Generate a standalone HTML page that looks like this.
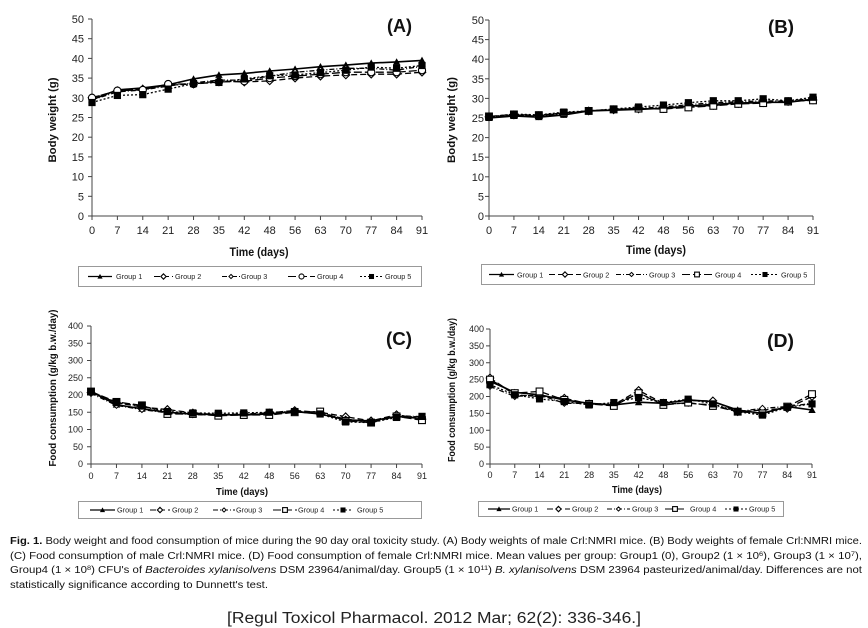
<!DOCTYPE html>
<html><head><meta charset="utf-8">
<style>
html,body{margin:0;padding:0;background:#fff;}
svg{display:block;font-family:"Liberation Sans",sans-serif;}
.tk{font-size:11px;fill:#222;}
.tk9{font-size:9px;fill:#222;}
.lg{font-size:7.3px;fill:#222;}
.ti{font-weight:bold;fill:#111;}
.cap{font-size:10px;fill:#111;}
</style></head>
<body>
<svg id="s" width="868" height="628" viewBox="0 0 868 628" xmlns="http://www.w3.org/2000/svg">
<rect width="868" height="628" fill="#fff"/>
<g id="plots"></g>

<!-- Panel A texts -->
<g class="tk" text-anchor="end">
<text x="84" y="220">0</text><text x="84" y="200.3">5</text><text x="84" y="180.6">10</text><text x="84" y="160.9">15</text><text x="84" y="141.2">20</text><text x="84" y="121.5">25</text><text x="84" y="101.8">30</text><text x="84" y="82.1">35</text><text x="84" y="62.4">40</text><text x="84" y="42.7">45</text><text x="84" y="23">50</text>
</g>
<g class="tk" text-anchor="middle">
<text x="92" y="234">0</text><text x="117.4" y="234">7</text><text x="142.8" y="234">14</text><text x="168.2" y="234">21</text><text x="193.5" y="234">28</text><text x="218.9" y="234">35</text><text x="244.3" y="234">42</text><text x="269.7" y="234">48</text><text x="295.1" y="234">56</text><text x="320.5" y="234">63</text><text x="345.8" y="234">70</text><text x="371.2" y="234">77</text><text x="396.6" y="234">84</text><text x="422" y="234">91</text>
</g>
<text class="ti" font-size="11" text-anchor="middle" transform="translate(56,120) rotate(-90)" textLength="85" lengthAdjust="spacingAndGlyphs">Body weight (g)</text>
<text class="ti" font-size="11.5" x="259" y="256" text-anchor="middle" textLength="59" lengthAdjust="spacingAndGlyphs">Time (days)</text>
<text class="ti" font-size="18" x="387" y="32" textLength="25" lengthAdjust="spacingAndGlyphs">(A)</text>

<!-- Panel B texts -->
<g class="tk" text-anchor="end">
<text x="484" y="220">0</text><text x="484" y="200.4">5</text><text x="484" y="180.8">10</text><text x="484" y="161.2">15</text><text x="484" y="141.6">20</text><text x="484" y="122">25</text><text x="484" y="102.4">30</text><text x="484" y="82.8">35</text><text x="484" y="63.2">40</text><text x="484" y="43.6">45</text><text x="484" y="24">50</text>
</g>
<g class="tk" text-anchor="middle">
<text x="489" y="234">0</text><text x="513.9" y="234">7</text><text x="538.8" y="234">14</text><text x="563.8" y="234">21</text><text x="588.7" y="234">28</text><text x="613.6" y="234">35</text><text x="638.5" y="234">42</text><text x="663.5" y="234">48</text><text x="688.4" y="234">56</text><text x="713.3" y="234">63</text><text x="738.2" y="234">70</text><text x="763.2" y="234">77</text><text x="788.1" y="234">84</text><text x="813" y="234">91</text>
</g>
<text class="ti" font-size="11" text-anchor="middle" transform="translate(455,120) rotate(-90)" textLength="86" lengthAdjust="spacingAndGlyphs">Body weight (g)</text>
<text class="ti" font-size="11.5" x="656" y="254" text-anchor="middle" textLength="60" lengthAdjust="spacingAndGlyphs">Time (days)</text>
<text class="ti" font-size="18" x="768" y="33" textLength="26" lengthAdjust="spacingAndGlyphs">(B)</text>

<!-- Panel C texts -->
<g class="tk9" text-anchor="end">
<text x="83" y="467">0</text><text x="83" y="449.75">50</text><text x="83" y="432.5">100</text><text x="83" y="415.25">150</text><text x="83" y="398">200</text><text x="83" y="380.75">250</text><text x="83" y="363.5">300</text><text x="83" y="346.25">350</text><text x="83" y="329">400</text>
</g>
<g class="tk9" text-anchor="middle">
<text x="91" y="479">0</text><text x="116.5" y="479">7</text><text x="141.9" y="479">14</text><text x="167.4" y="479">21</text><text x="192.8" y="479">28</text><text x="218.3" y="479">35</text><text x="243.8" y="479">42</text><text x="269.2" y="479">48</text><text x="294.7" y="479">56</text><text x="320.2" y="479">63</text><text x="345.6" y="479">70</text><text x="371.1" y="479">77</text><text x="396.5" y="479">84</text><text x="422" y="479">91</text>
</g>
<text class="ti" font-size="10" text-anchor="middle" transform="translate(56,388) rotate(-90)" textLength="157" lengthAdjust="spacingAndGlyphs">Food consumption (g/kg b.w./day)</text>
<text class="ti" font-size="10" x="242" y="495" text-anchor="middle" textLength="52" lengthAdjust="spacingAndGlyphs">Time (days)</text>
<text class="ti" font-size="18" x="386" y="345" textLength="26" lengthAdjust="spacingAndGlyphs">(C)</text>

<!-- Panel D texts -->
<g class="tk9" text-anchor="end">
<text x="484" y="467">0</text><text x="484" y="450.1">50</text><text x="484" y="433.25">100</text><text x="484" y="416.4">150</text><text x="484" y="399.5">200</text><text x="484" y="382.6">250</text><text x="484" y="365.75">300</text><text x="484" y="348.9">350</text><text x="484" y="332">400</text>
</g>
<g class="tk9" text-anchor="middle">
<text x="490" y="478">0</text><text x="514.8" y="478">7</text><text x="539.5" y="478">14</text><text x="564.3" y="478">21</text><text x="589.1" y="478">28</text><text x="613.8" y="478">35</text><text x="638.6" y="478">42</text><text x="663.4" y="478">48</text><text x="688.2" y="478">56</text><text x="712.9" y="478">63</text><text x="737.7" y="478">70</text><text x="762.5" y="478">77</text><text x="787.2" y="478">84</text><text x="812" y="478">91</text>
</g>
<text class="ti" font-size="10" text-anchor="middle" transform="translate(455,390) rotate(-90)" textLength="144" lengthAdjust="spacingAndGlyphs">Food consumption (g/kg b.w./day)</text>
<text class="ti" font-size="10" x="637" y="493" text-anchor="middle" textLength="50" lengthAdjust="spacingAndGlyphs">Time (days)</text>
<text class="ti" font-size="18" x="767" y="347" textLength="27" lengthAdjust="spacingAndGlyphs">(D)</text>

<!-- Legends -->
<rect x="78.5" y="266.5" width="343" height="20" fill="none" stroke="#999" stroke-width="1"/>
<g class="lg">
<text x="116" y="279">Group 1</text><text x="175" y="279">Group 2</text><text x="241" y="279">Group 3</text><text x="317" y="279">Group 4</text><text x="385" y="279">Group 5</text>
</g>
<rect x="481.5" y="264.5" width="333" height="20" fill="none" stroke="#999" stroke-width="1"/>
<g class="lg">
<text x="517" y="277.5">Group 1</text><text x="583" y="277.5">Group 2</text><text x="649" y="277.5">Group 3</text><text x="715" y="277.5">Group 4</text><text x="781" y="277.5">Group 5</text>
</g>
<rect x="78.5" y="501.5" width="343" height="17" fill="none" stroke="#999" stroke-width="1"/>
<g class="lg">
<text x="117" y="512.5">Group 1</text><text x="172" y="512.5">Group 2</text><text x="236" y="512.5">Group 3</text><text x="298" y="512.5">Group 4</text><text x="357" y="512.5">Group 5</text>
</g>
<rect x="478.5" y="501.5" width="305" height="15" fill="none" stroke="#999" stroke-width="1"/>
<g class="lg" font-size="7">
<text x="512" y="511.5">Group 1</text><text x="572" y="511.5">Group 2</text><text x="632" y="511.5">Group 3</text><text x="690" y="511.5">Group 4</text><text x="749" y="511.5">Group 5</text>
</g>
<g id="leg"></g>

<!-- Caption -->
<text class="cap" x="10" y="544" textLength="852" lengthAdjust="spacingAndGlyphs"><tspan font-weight="bold">Fig. 1.</tspan>  Body weight and food consumption of mice during the 90 day oral toxicity study. (A) Body weights of male Crl:NMRI mice. (B) Body weights of female Crl:NMRI mice.</text>
<text class="cap" x="10" y="559" textLength="852" lengthAdjust="spacingAndGlyphs">(C) Food consumption of male Crl:NMRI mice. (D) Food consumption of female Crl:NMRI mice. Mean values per group: Group1 (0), Group2 (1 × 10<tspan dy="-3" font-size="6.5">6</tspan><tspan dy="3">), Group3 (1 × 10</tspan><tspan dy="-3" font-size="6.5">7</tspan><tspan dy="3">),</tspan></text>
<text class="cap" x="10" y="573" textLength="852" lengthAdjust="spacingAndGlyphs">Group4 (1 × 10<tspan dy="-3" font-size="6.5">8</tspan><tspan dy="3">) CFU's of </tspan><tspan font-style="italic">Bacteroides xylanisolvens</tspan> DSM 23964/animal/day. Group5 (1 × 10<tspan dy="-3" font-size="6.5">11</tspan><tspan dy="3">) </tspan><tspan font-style="italic">B. xylanisolvens</tspan> DSM 23964 pasteurized/animal/day. Differences are not</text>
<text class="cap" x="10" y="588" textLength="258" lengthAdjust="spacingAndGlyphs">statistically significance according to Dunnett's test.</text>

<text x="227" y="623" font-size="15.5" fill="#222" textLength="414" lengthAdjust="spacingAndGlyphs">[Regul Toxicol Pharmacol. 2012 Mar; 62(2): 336-346.]</text>
</svg>

<script>
(function(){
var NS="http://www.w3.org/2000/svg";
var P=document.getElementById('plots');
var L=document.getElementById('leg');
function el(par,tag,a){var e=document.createElementNS(NS,tag);for(var k in a)e.setAttribute(k,a[k]);par.appendChild(e);return e;}
var dashes=['', '6,3', '5,2,1,2', '8,3', '2,2'];
function marker(par,type,x,y,k){
  k=k||1;var s;
  if(type==='tri'){s=3.7*k;el(par,'polygon',{points:(x)+','+(y-s)+' '+(x-s)+','+(y+s*0.8)+' '+(x+s)+','+(y+s*0.8),fill:'#000'});}
  else if(type==='dia'){s=3.8*k;el(par,'polygon',{points:x+','+(y-s)+' '+(x+s)+','+y+' '+x+','+(y+s)+' '+(x-s)+','+y,fill:'#fff',stroke:'#000','stroke-width':1.1});}
  else if(type==='dia3'){s=3*k;el(par,'polygon',{points:x+','+(y-s)+' '+(x+s)+','+y+' '+x+','+(y+s)+' '+(x-s)+','+y,fill:'#fff',stroke:'#000','stroke-width':1});}
  else if(type==='circ'){el(par,'circle',{cx:x,cy:y,r:3.6*k,fill:'#fff',stroke:'#000','stroke-width':1.1});}
  else if(type==='sq'){s=3.4*k;el(par,'rect',{x:x-s,y:y-s,width:2*s,height:2*s,fill:'#fff',stroke:'#000','stroke-width':1.1});}
  else if(type==='fsq'){s=3.6*k;el(par,'rect',{x:x-s,y:y-s,width:2*s,height:2*s,fill:'#000'});}
}
function panel(x0,x1,yTop,yBot,vmax,step,data,mk){
  var g=el(P,'g',{});
  var dx=(x1-x0)/13, sc=(yBot-yTop)/vmax;
  el(g,'line',{x1:x0,y1:yTop,x2:x0,y2:yBot,stroke:'#444','stroke-width':1});
  el(g,'line',{x1:x0,y1:yBot,x2:x1,y2:yBot,stroke:'#444','stroke-width':1});
  for(var v=0;v<=vmax+0.001;v+=step){var yy=yBot-v*sc;el(g,'line',{x1:x0-4,y1:yy,x2:x0,y2:yy,stroke:'#444','stroke-width':1});}
  for(var i=0;i<14;i++){var xx=x0+i*dx;el(g,'line',{x1:xx,y1:yBot,x2:xx,y2:yBot+4,stroke:'#444','stroke-width':1});}
  for(var s=0;s<5;s++){
    var pts=data[s].map(function(v,i){return (x0+i*dx).toFixed(1)+','+(yBot-v*sc).toFixed(1);}).join(' ');
    var a={points:pts,fill:'none',stroke:'#000','stroke-width':s===0?1.6:1.3};
    if(dashes[s])a['stroke-dasharray']=dashes[s];
    el(g,'polyline',a);
  }
  for(var s2=0;s2<5;s2++){
    data[s2].forEach(function(v,i){marker(g,mk[s2],x0+i*dx,yBot-v*sc);});
  }
}
var A=[[29.5,32,32.5,33.3,34.8,35.8,36.2,36.8,37.3,37.9,38.3,38.8,39.1,39.5],
[30,31.8,32.2,33.2,33.5,34.3,34,34.3,35,35.5,35.8,36,36,36.5],
[29.5,31.5,32,33,33.8,34.5,34.5,35.5,36.5,37,37.5,37.5,37,38],
[30,31.8,32,33.5,33.5,34,34.2,35,35.5,36,36.5,36.5,36.5,37],
[28.8,30.6,30.8,32.2,33.6,33.9,34.8,35.6,35.8,36.4,37,37.8,37.5,38.2]];
var B=[[25,25.5,25.2,25.8,26.8,27,27.2,27.5,28,28.5,28.8,29,29,29.8],
[25.3,25.8,25.6,26.2,26.8,27.1,27.3,27.4,27.9,28.2,28.7,28.9,29.2,29.6],
[25.2,25.7,25.5,26,26.9,27.2,27.5,27.8,28.4,28.9,29.1,29.4,29.3,30],
[25.4,25.9,25.7,26.3,26.8,27.2,27.4,27.3,27.7,28.1,28.6,28.8,29.2,29.5],
[25.3,26,25.8,26.5,26.8,27.3,27.8,28.3,28.9,29.4,29.4,29.9,29.4,30.3]];
var C=[[210,172,160,150,145,143,142,145,152,145,128,125,138,132],
[207,178,165,158,148,143,145,148,155,150,137,125,143,130],
[205,170,158,148,143,142,143,145,153,148,130,122,140,137],
[210,180,170,145,145,140,142,142,150,152,125,120,138,127],
[210,178,168,152,148,147,148,150,152,145,122,120,135,138]];
var D=[[245,212,205,190,180,175,183,180,190,185,160,150,170,160],
[255,205,200,195,178,175,218,180,188,187,155,160,165,200],
[230,200,205,180,180,175,210,178,180,175,155,165,170,180],
[250,210,215,190,178,172,210,175,182,172,155,150,170,207],
[235,205,193,185,175,182,197,182,192,178,155,145,168,178]];
panel(92,422,19,216,50,5,A,['tri','dia','dia3','circ','fsq']);
panel(489,813,20,216,50,5,B,['tri','dia','dia3','sq','fsq']);
panel(91,422,326,464,400,50,C,['tri','dia','dia3','sq','fsq']);
panel(490,812,329,464,400,50,D,['tri','dia','dia3','sq','fsq']);
function samp(x1,x2,y,s,mk){
  var a={x1:x1,y1:y,x2:x2,y2:y,stroke:'#000','stroke-width':s===0?1.3:1};
  if(dashes[s])a['stroke-dasharray']=dashes[s];
  el(L,'line',a);
  marker(L,mk,(x1+x2)/2,y,0.7);
}
var la=[[88,112],[154,173],[222,240],[288,315],[360,383]];
var ma=['tri','dia','dia3','circ','fsq'];
la.forEach(function(p,i){samp(p[0],p[1],276.5,i,ma[i]);});
var lb=[[489,514],[549,581],[616,647],[682,712],[751,779]];
var mb=['tri','dia','dia3','sq','fsq'];
lb.forEach(function(p,i){samp(p[0],p[1],274.5,i,mb[i]);});
var lc=[[90,115],[150,170],[213,235],[273,297],[333,353]];
lc.forEach(function(p,i){samp(p[0],p[1],510,i,mb[i]);});
var ld=[[488,510],[547,570],[607,630],[665,685],[725,747]];
ld.forEach(function(p,i){samp(p[0],p[1],509,i,mb[i]);});
})();
</script>
</body></html>
